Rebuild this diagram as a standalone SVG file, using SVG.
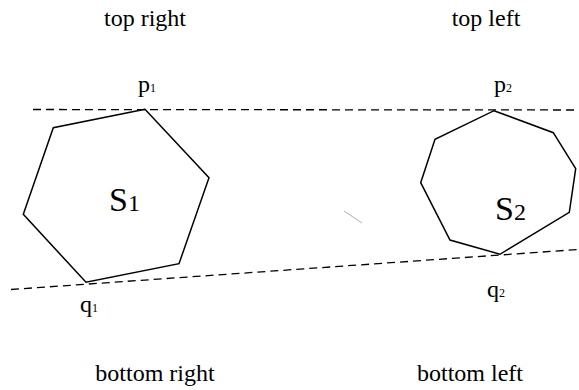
<svg xmlns="http://www.w3.org/2000/svg" width="579" height="390" viewBox="0 0 579 390">
<style>
text{font-family:"Liberation Serif","Times New Roman","DejaVu Serif",serif;fill:#000}
.lbl{font-size:24px;text-anchor:middle}
.poly{fill:none;stroke:#000;stroke-width:1.5;stroke-linejoin:miter}
.dash{fill:none;stroke:#000;stroke-width:1.3;stroke-dasharray:8 5}
</style>
<rect width="579" height="390" fill="#fff"/>
<g id="captions">
<text class="lbl" x="145" y="26">top right</text>
<text class="lbl" x="486" y="26">top left</text>
<text class="lbl" x="155" y="381">bottom right</text>
<text class="lbl" x="470" y="381">bottom left</text>
</g>
<g id="connectors">
<line class="dash" x1="33" y1="109.5" x2="576" y2="110"/>
<line class="dash" x1="11" y1="289.5" x2="578" y2="249.5"/>
<line x1="344" y1="211" x2="362" y2="223" stroke="#999" stroke-width="0.8"/>
</g>
<g id="S1">
<polygon class="poly" points="145,109.3 53.3,127.7 23.3,214.3 86,282.3 179,263.7 209,177.7"/>
<text x="109" y="211" font-size="34">S<tspan font-size="24">1</tspan></text>
</g>
<g id="S2">
<polygon class="poly" points="494,110.7 553.3,132.7 575.7,168.7 569.3,212.3 500,254.3 450,240 420.7,182.7 435,139.3"/>
<text x="495" y="220" font-size="34">S<tspan font-size="24">2</tspan></text>
</g>
<g id="p1"><text x="138" y="92" font-size="24">p<tspan font-size="12">1</tspan></text></g>
<g id="p2"><text x="494" y="92" font-size="24">p<tspan font-size="12">2</tspan></text></g>
<g id="q1"><text x="80" y="312" font-size="24">q<tspan font-size="12">1</tspan></text></g>
<g id="q2"><text x="487" y="297" font-size="24">q<tspan font-size="12">2</tspan></text></g>
</svg>
